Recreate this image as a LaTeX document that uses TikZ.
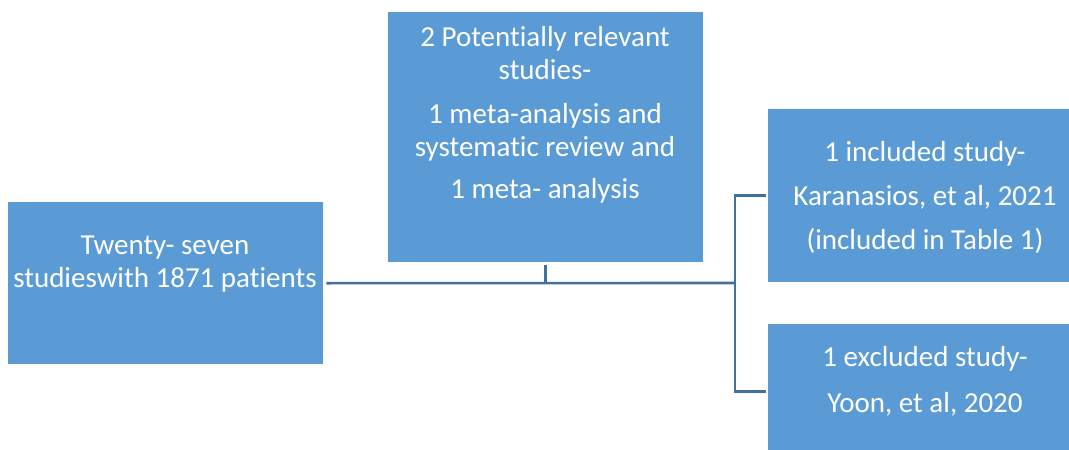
\documentclass[tikz,border=0pt]{standalone}
\usepackage{fontspec}
\setmainfont{Carlito}[RawFeature=-liga]
\definecolor{boxblue}{HTML}{5B9BD5}
\definecolor{linkblue}{HTML}{41719C}
\begin{document}
\begin{tikzpicture}[x=1pt,y=-1pt,
  blk/.style={draw=none,fill=boxblue,inner sep=0pt,anchor=north west},
  txt/.style={text=white,align=center,inner sep=0pt,font=\fontsize{29}{33}\selectfont},
  link/.style={draw=linkblue,line width=2.6pt}]
\useasboundingbox (0,0) rectangle (1069,450);
\node[blk,minimum width=315pt,minimum height=162pt] (left) at (8,202) {};
\node[blk,minimum width=315pt,minimum height=250pt] (mid) at (388,12) {};
\node[blk,minimum width=314pt,minimum height=173pt] (rt) at (768,109) {};
\node[blk,minimum width=314pt,minimum height=134pt] (rb) at (768,324) {};
\node[txt] (lefttxt) at (165,264) {Twenty- seven\\studieswith 1871 patients};
\node[txt] (midtxt) at (545,115) {2 Potentially relevant\\studies-\\[11pt]1 meta-analysis and\\systematic review and\\[9pt]1 meta- analysis};
\node[txt] (rttxt) at (925,197) {1 included study-\\[11pt]Karanasios, et al, 2021\\[11pt](included in Table 1)};
\node[txt] (rbtxt) at (925,381) {1 excluded study-\\[13pt]Yoon, et al, 2020};
\coordinate (j) at (735,283);
\draw[link,shorten <=3pt] (left.east) -- (j);
\draw[link,shorten <=3pt] (mid.south) -- (mid.south |- j);
\draw[link,shorten <=2pt,shorten >=2pt] (rt.west) -- (rt.west -| j) -- (rb.west -| j) -- (rb.west);
\end{tikzpicture}
\end{document}
